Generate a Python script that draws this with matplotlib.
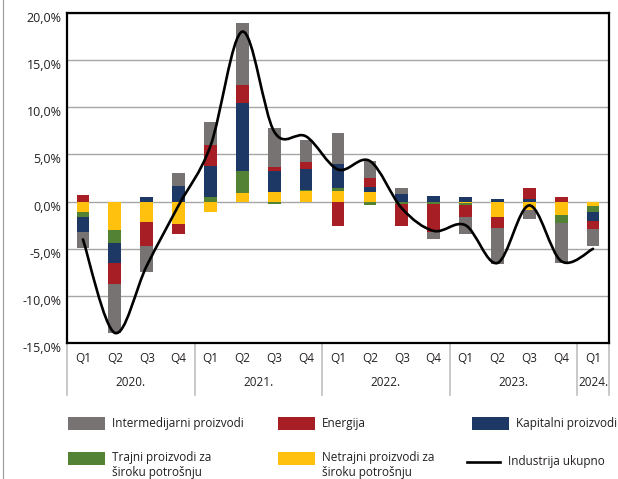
import matplotlib
matplotlib.use("Agg")
import matplotlib.pyplot as plt
import matplotlib.transforms as mtransforms
import numpy as np
from matplotlib.path import Path
from matplotlib.patches import PathPatch, Rectangle
from matplotlib.ticker import FuncFormatter

plt.rcParams["font.family"] = ["Open Sans", "DejaVu Sans"]

# quarterly contributions (percentage points), 2020 Q1 .. 2024 Q1
quarters = ["Q1", "Q2", "Q3", "Q4"] * 4 + ["Q1"]
years = ["2020.", "2021.", "2022.", "2023.", "2024."]

intermedijarni = [-1.7, -5.15, -2.75, 1.35, 2.45, 6.6, 4.15, 2.3, 3.3, 1.75, 0.55, -0.7,
                  -1.75, -3.85, -0.95, -4.2, -1.9]
energija = [0.65, -2.3, -2.5, -1.05, 2.2, 1.95, 0.45, 0.8, -2.6, 1.0, -2.35, -3.0,
            -1.25, -1.15, 1.2, 0.5, -0.8]
kapitalni = [-1.65, -2.1, 0.5, 1.65, 3.25, 7.2, 2.2, 2.15, 2.5, 0.55, 0.85, 0.55,
             0.45, 0.3, 0.25, 0.0, -1.0]
trajni = [-0.55, -1.35, 0.0, 0.0, 0.5, 2.3, -0.25, 0.15, 0.35, -0.35, -0.25, -0.25,
          -0.25, -0.05, 0.0, -0.85, -0.55]
netrajni = [-1.05, -3.0, -2.2, -2.4, -1.05, 0.9, 1.0, 1.1, 1.1, 1.0, 0.0, 0.0,
            -0.15, -1.6, -0.85, -1.4, -0.5]
industrija = [-4.0, -13.9, -6.8, -0.4, 5.9, 18.0, 7.4, 6.9, 3.4, 4.3, -0.7, -3.1,
              -2.5, -6.5, -0.4, -6.3, -5.0]

labels = ["Intermedijarni proizvodi", "Energija", "Kapitalni proizvodi",
          "Trajni proizvodi za\nširoku potrošnju", "Netrajni proizvodi za\nširoku potrošnju",
          "Industrija ukupno"]
colors = {"grey": "#777372", "red": "#A71E25", "navy": "#1D3864",
          "green": "#548235", "yellow": "#FFC10E"}

# stacking order: first series sits next to zero
stack = [(netrajni, colors["yellow"]), (trajni, colors["green"]),
         (kapitalni, colors["navy"]), (energija, colors["red"]),
         (intermedijarni, colors["grey"])]

W, H = 618, 479
fig = plt.figure(figsize=(W / 100, H / 100), dpi=100)
ax_l, ax_r, ax_t, ax_b = 67, 609, 12.7, 343.3
ax = fig.add_axes([ax_l / W, 1 - ax_b / H, (ax_r - ax_l) / W, (ax_b - ax_t) / H])

x = np.arange(len(quarters))
pos = np.zeros(len(x))
neg = np.zeros(len(x))
for vals, c in stack:
    v = np.array(vals)
    bottom = np.where(v >= 0, pos, neg)
    ax.bar(x, v, width=0.4, bottom=bottom, color=c, linewidth=0, zorder=2)
    pos += np.where(v >= 0, v, 0)
    neg += np.where(v < 0, v, 0)

# smoothed line (Excel style cubic Bezier through the points)
P = np.column_stack([x, industrija]).astype(float)
Pe = np.vstack([P[0], P, P[-1]])
verts = [P[0]]
codes = [Path.MOVETO]
for i in range(len(P) - 1):
    c1 = Pe[i + 1] + (Pe[i + 2] - Pe[i]) / 6
    c2 = Pe[i + 2] - (Pe[i + 3] - Pe[i + 1]) / 6
    verts += [c1, c2, P[i + 1]]
    codes += [Path.CURVE4] * 3
ax.add_patch(PathPatch(Path(verts, codes), facecolor="none", edgecolor="black",
                       linewidth=1.9, zorder=3, capstyle="round"))

ax.set_xlim(-0.5, len(x) - 0.5)
ax.set_ylim(-15, 20)
ax.set_yticks(np.arange(-15, 21, 5))
ax.yaxis.set_major_formatter(FuncFormatter(lambda v, _: f"{v:.1f}%".replace(".", ",")))
ax.tick_params(axis="y", length=0, pad=4, labelsize=9, labelcolor="#231F20")
# labels sit a few pixels below their gridlines in the original
shift = mtransforms.ScaledTranslation(0, -4 / 100, fig.dpi_scale_trans)
for lab in ax.get_yticklabels():
    lab.set_transform(lab.get_transform() + shift)
ax.set_xticks([])
ax.grid(True, axis="y", color="#A6A6A6", linewidth=1, zorder=0)
ax.set_axisbelow(True)
for s in ax.spines.values():
    s.set_color("black")
    s.set_linewidth(1.6)

# multi-level category axis
tr = ax.get_xaxis_transform()
hpx = ax_b - ax_t
for i, q in enumerate(quarters):
    ax.text(i, -(358 - ax_b) / hpx, q, transform=tr, ha="center", va="center",
            fontsize=8.5, color="#231F20")
starts = [0, 4, 8, 12, 16]
ends = [4, 8, 12, 16, 17]
for y_lab, s0, s1 in zip(years, starts, ends):
    ax.text((s0 + s1 - 1) / 2, -(382 - ax_b) / hpx, y_lab, transform=tr, ha="center",
            va="center", fontsize=8.5, color="#231F20")
for b in [-0.5, 3.5, 7.5, 11.5, 15.5, 16.5]:
    ax.plot([b, b], [0, -(395 - ax_b) / hpx], transform=tr, color="#BFBFBF",
            linewidth=1.2, clip_on=False)

# legend drawn in pixel space
lax = fig.add_axes([0, 0, 1, 1], zorder=-1)
lax.set_xlim(0, W)
lax.set_ylim(H, 0)
lax.axis("off")
lax.plot([3, 3], [0, H], color="#9A9A9A", linewidth=0.8)
patch_items = [(labels[0], colors["grey"], 68, 423), (labels[1], colors["red"], 278, 423),
               (labels[2], colors["navy"], 472, 423), (labels[3], colors["green"], 68, 458),
               (labels[4], colors["yellow"], 278, 458)]
for lab, c, px, py in patch_items:
    lax.add_patch(Rectangle((px, py - 6.5), 37, 13, color=c, linewidth=0))
    ty = py if "\n" not in lab else py + 7
    lax.text(px + 44, ty, lab, ha="left", va="center", fontsize=8.5, color="#231F20",
             linespacing=1.25)
lax.plot([467, 500], [462, 462], color="black", linewidth=1.9)
lax.text(508, 462, labels[5], ha="left", va="center", fontsize=8.5, color="#231F20")

fig.savefig("out.png", dpi=100)
